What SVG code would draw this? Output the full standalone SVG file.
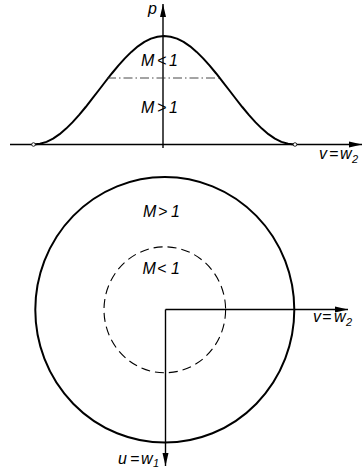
<svg xmlns="http://www.w3.org/2000/svg" width="364" height="471" viewBox="0 0 364 471">
<style>
.ax{stroke:#000;stroke-width:1.4;fill:none}
.cur{stroke:#000;stroke-width:2;fill:none;stroke-linejoin:round}
.dd{stroke:#333;stroke-width:0.9;fill:none;stroke-dasharray:9 3 1.5 3}
.dash{stroke:#000;stroke-width:1.1;fill:none;stroke-dasharray:9 5}
.lbl{font-family:"Liberation Sans",Arial,sans-serif;font-style:italic;font-size:16px;fill:#000}
.sm{font-family:"Liberation Sans",Arial,sans-serif;font-style:italic;font-size:16px;fill:#000}
.sub{font-size:11px}
.foot{fill:#fff;stroke:#000;stroke-width:0.8}
</style>
<defs>
<marker id="ah" markerUnits="userSpaceOnUse" markerWidth="14" markerHeight="8" refX="13" refY="4" orient="auto">
<path d="M0,1 L13,4 L0,7 Z" fill="#000"/>
</marker>
</defs>
<g id="connectors">
<line class="ax" x1="10" y1="144.5" x2="362" y2="144.5" marker-end="url(#ah)"/>
<line class="ax" x1="163" y1="148" x2="163" y2="4" marker-end="url(#ah)"/>
<line class="ax" x1="165.5" y1="309.5" x2="348" y2="309.5" marker-end="url(#ah)"/>
<line class="ax" x1="165.5" y1="309.5" x2="165.5" y2="466" marker-end="url(#ah)"/>
</g>
<g id="curve">
<polyline class="cur" points="33.5,144.5 40.02,143.83 46.55,141.85 53.07,138.59 59.6,134.14 66.12,128.61 72.65,122.14 79.17,114.88 85.7,107.01 92.22,98.74 98.75,90.25 105.27,81.76 111.8,73.49 118.32,65.62 124.85,58.36 131.37,51.89 137.9,46.36 144.42,41.91 150.95,38.65 157.47,36.67 164,36 170.53,36.67 177.05,38.65 183.58,41.91 190.1,46.36 196.63,51.89 203.15,58.36 209.68,65.62 216.2,73.49 222.73,81.76 229.25,90.25 235.78,98.74 242.3,107.01 248.83,114.88 255.35,122.14 261.88,128.61 268.4,134.14 274.93,138.59 281.45,141.85 287.98,143.83 294.5,144.5"/>
<line class="dd" x1="107" y1="78" x2="219" y2="78"/>
<circle class="foot" cx="33.5" cy="144.5" r="1.8"/>
<circle class="foot" cx="295" cy="144.5" r="1.8"/>
</g>
<g id="outer-circle">
<ellipse class="cur" cx="164.8" cy="309.8" rx="129.5" ry="132.8"/>
</g>
<g id="inner-circle">
<ellipse class="dash" cx="164.8" cy="309.8" rx="60.8" ry="63"/>
</g>
<g id="labels">
<text class="lbl" x="148" y="14">p</text>
<text class="lbl" y="66"><tspan x="141">M</tspan><tspan x="157">&lt;</tspan><tspan x="169">1</tspan></text>
<text class="lbl" y="113"><tspan x="141">M</tspan><tspan x="157">&gt;</tspan><tspan x="169">1</tspan></text>
<text class="sm" y="158.5"><tspan x="319">v</tspan><tspan x="329">=</tspan><tspan x="340">w</tspan><tspan x="352" dy="4" class="sub">2</tspan></text>
<text class="lbl" y="216.7"><tspan x="143">M</tspan><tspan x="158">&gt;</tspan><tspan x="171">1</tspan></text>
<text class="lbl" y="273.5"><tspan x="142.5">M</tspan><tspan x="157">&lt;</tspan><tspan x="171">1</tspan></text>
<text class="sm" y="321.7"><tspan x="313">v</tspan><tspan x="322">=</tspan><tspan x="334">w</tspan><tspan x="346" dy="4" class="sub">2</tspan></text>
<text class="sm" y="463.5"><tspan x="118">u</tspan><tspan x="130">=</tspan><tspan x="141">w</tspan><tspan x="153" dy="3" class="sub">1</tspan></text>
</g>
</svg>
